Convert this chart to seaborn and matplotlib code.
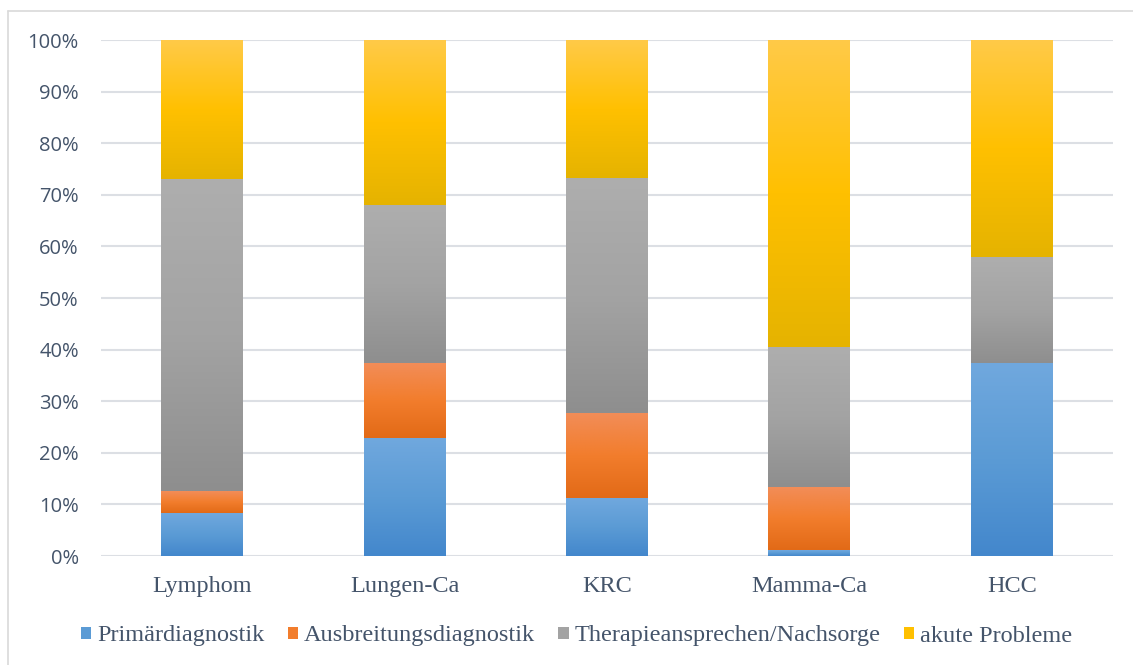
import numpy as np
import pandas as pd
import matplotlib
matplotlib.use("Agg")
import matplotlib.pyplot as plt
from matplotlib.colors import LinearSegmentedColormap
from matplotlib.patches import Patch
from matplotlib.lines import Line2D
from matplotlib.ticker import PercentFormatter
import seaborn as sns

# Anteil der Fragestellungen je Tumorentität (in %)
categories = ["Lymphom", "Lungen-Ca", "KRC", "Mamma-Ca", "HCC"]
primaerdiagnostik = [8.3, 22.8, 11.2, 1.1, 37.3]
ausbreitungsdiagnostik = [4.2, 14.5, 16.3, 12.2, 0.0]
therapieansprechen = [60.4, 30.8, 45.6, 27.0, 20.7]
akute_probleme = [27.1, 31.9, 26.9, 59.7, 42.0]

series_names = ["Primärdiagnostik", "Ausbreitungsdiagnostik",
                "Therapieansprechen/Nachsorge", "akute Probleme"]
series_values = [primaerdiagnostik, ausbreitungsdiagnostik,
                 therapieansprechen, akute_probleme]

# gradient stops per series: top, middle, bottom
gradients = [
    ["#70A8DE", "#5B9BD5", "#4387CC"],
    ["#F28D58", "#F27D2C", "#E26A17"],
    ["#AEAEAE", "#A3A3A3", "#8E8E8E"],
    ["#FFCA48", "#FFC000", "#E5B300"],
]
base_colors = [g[1] for g in gradients]

text_color = "#44546A"
grid_color = "#DCDFE4"

sns.set_theme(style="white")
plt.rcParams["font.family"] = ["DejaVu Sans"]

fig = plt.figure(figsize=(11.33, 6.65), dpi=100)
ax = fig.add_axes([101 / 1133, 1 - 556 / 665, 1012 / 1133, 516 / 665])

df = pd.DataFrame({"Kategorie": categories})
cum = np.cumsum(np.array(series_values, dtype=float), axis=0)
for i, name in enumerate(series_names):
    df[name] = cum[i]

bar_width = 0.405
# tallest cumulative layer first so lower layers sit on top
containers = {}
for i in reversed(range(len(series_names))):
    n_before = len(ax.patches)
    sns.barplot(data=df, x="Kategorie", y=series_names[i], color=base_colors[i],
                width=bar_width, saturation=1, ax=ax, zorder=2, linewidth=0)
    containers[i] = ax.patches[n_before:]

# vertical gradient on each visible segment
for i, patches in containers.items():
    cmap = LinearSegmentedColormap.from_list(f"g{i}", gradients[i][::-1])
    grad = np.linspace(0, 1, 256).reshape(-1, 1)
    for j, p in enumerate(patches):
        lower = cum[i - 1][j] if i > 0 else 0.0
        upper = cum[i][j]
        if upper - lower <= 0:
            continue
        x0 = p.get_x()
        ax.imshow(grad, cmap=cmap, origin="lower", aspect="auto",
                  extent=(x0, x0 + p.get_width(), lower, upper),
                  zorder=3, interpolation="bilinear")

ax.set_xlim(-0.5, len(categories) - 0.5)
ax.set_ylim(0, 100)
ax.set_yticks(np.arange(0, 101, 10))
ax.yaxis.set_major_formatter(PercentFormatter(decimals=0))
ax.grid(axis="y", color=grid_color, linewidth=1.5, zorder=0)
ax.set_axisbelow(True)
for s in ax.spines.values():
    s.set_visible(False)
ax.set_xlabel("")
ax.set_ylabel("")
ax.tick_params(axis="y", length=0, pad=16, labelsize=14.5, labelcolor=text_color)
ax.tick_params(axis="x", length=0, pad=14.5, labelcolor=text_color)
for lab in ax.get_yticklabels():
    lab.set_family(["Open Sans", "DejaVu Sans"])
for lab in ax.get_xticklabels():
    lab.set_family(["Liberation Serif", "DejaVu Serif"])
    lab.set_fontsize(17.5)

handles = [Patch(facecolor=c, edgecolor="none") for c in base_colors]
leg = fig.legend(handles, series_names, loc="center", ncol=4,
                 bbox_to_anchor=(0.509, 1 - 636 / 665), frameon=False,
                 prop={"family": ["Liberation Serif", "DejaVu Serif"], "size": 17.5},
                 handlelength=0.42, handleheight=0.42, handletextpad=0.25,
                 columnspacing=0.95, borderaxespad=0)
for t in leg.get_texts():
    t.set_color(text_color)

# chart frame (top and left edges)
fig.add_artist(Line2D([7.5 / 1133, 1.0], [1 - 11 / 665, 1 - 11 / 665],
                      transform=fig.transFigure, color="#D9D9D9", linewidth=1.2))
fig.add_artist(Line2D([7.5 / 1133, 7.5 / 1133], [0.0, 1 - 11 / 665],
                      transform=fig.transFigure, color="#D9D9D9", linewidth=1.2))

fig.savefig("out.png", dpi=100, facecolor="white")
